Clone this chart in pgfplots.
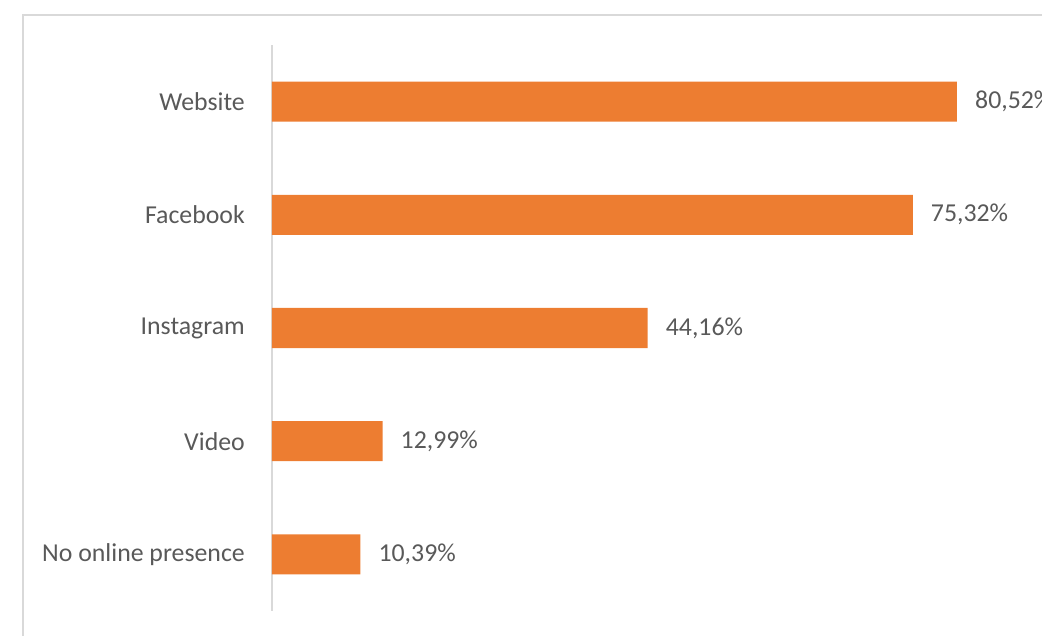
\documentclass[border=0pt]{standalone}
\usepackage{pgfplots}
\pgfplotsset{compat=1.18}
\usepackage{fontspec}
\setmainfont{Carlito}
\definecolor{barorange}{HTML}{ED7D31}
\definecolor{txtgray}{HTML}{595959}
\definecolor{linegray}{HTML}{D9D9D9}
\begin{document}
\begin{tikzpicture}[x=1pt,y=1pt]
\useasboundingbox (0,0) rectangle (1042,635);
\draw[linegray, line width=1.5pt] (23,-30) -- (23,620) -- (1100,620);
\begin{axis}[
  at={(272pt,24pt)}, anchor=south west,
  scale only axis,
  width=850.7pt, height=566pt,
  xmin=0, xmax=100,
  ymin=-0.5, ymax=4.5,
  axis x line=none,
  axis y line*=left,
  y axis line style={linegray, line width=1.2pt},
  ytick={0,1,2,3,4},
  yticklabels={No online presence, Video, Instagram, Facebook, Website},
  major tick length=0pt,
  ytick style={draw=none},
  yticklabel style={font=\fontsize{25.8}{30}\selectfont, text=txtgray, anchor=east, inner sep=0pt, xshift=-27pt},
  xbar, bar width=40pt,
  nodes near coords={\pgfmathprintnumber[fixed, fixed zerofill, precision=2, use comma, assume math mode=true]{\pgfplotspointmeta}\%},
  nodes near coords style={font=\fontsize{25.8}{30}\selectfont, text=txtgray, anchor=west, inner sep=0pt, xshift=18pt},
  point meta=x,
]
\addplot[fill=barorange, draw=none] coordinates {(10.39,0) (12.99,1) (44.16,2) (75.32,3) (80.52,4)};
\end{axis}
\end{tikzpicture}
\end{document}
